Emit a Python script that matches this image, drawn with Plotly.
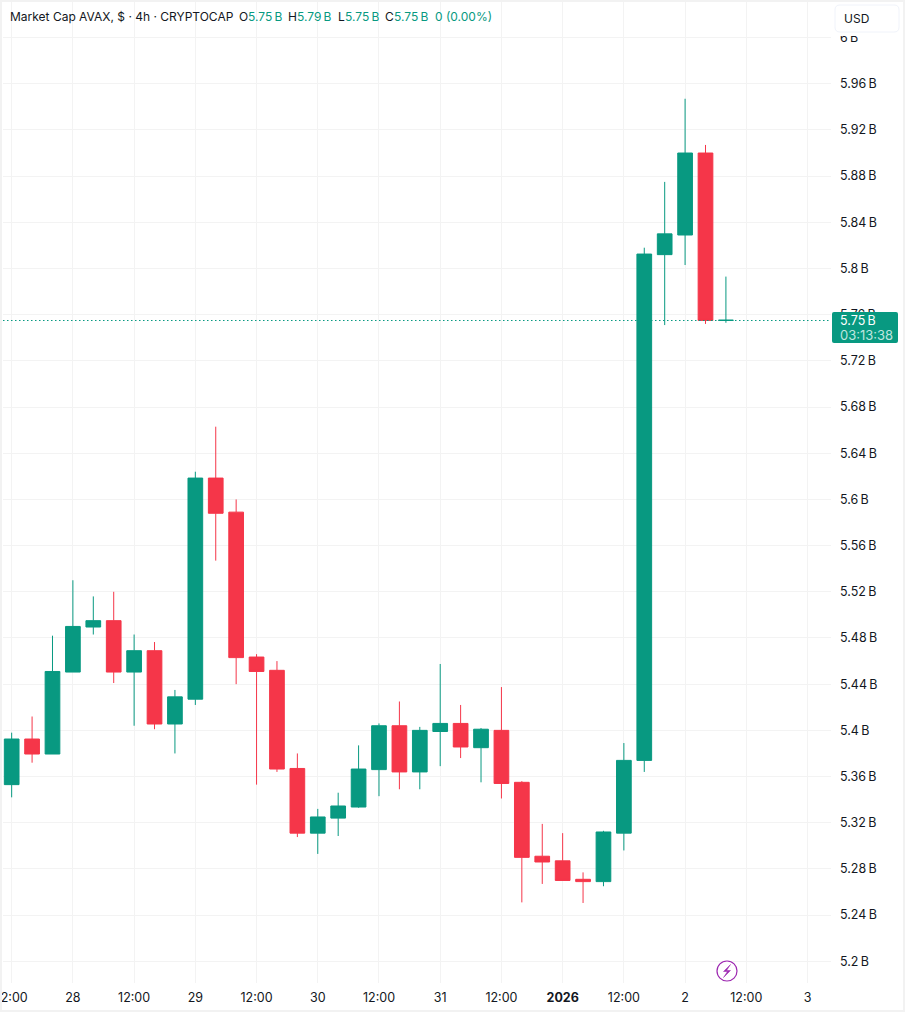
import pandas as pd
import plotly.graph_objects as go

opens = [5.353,5.3925,5.3795,5.4505,5.4895,5.495,5.4505,5.469,5.4055,5.427,5.6185,5.589,5.4635,5.452,5.367,5.311,5.324,5.3336,
         5.366,5.404,5.364,5.399,5.406,5.385,5.400,5.355,5.291,5.287,5.271,5.269,5.311,5.374,5.812,5.829,5.900,5.755]
highs = [5.398,5.412,5.482,5.530,5.516,5.520,5.483,5.4765,5.435,5.624,5.663,5.600,5.466,5.460,5.380,5.332,5.346,5.387,
         5.406,5.425,5.403,5.4575,5.422,5.402,5.4375,5.356,5.319,5.311,5.277,5.313,5.389,5.818,5.875,5.947,5.907,5.793]
lows = [5.342,5.372,5.3795,5.4505,5.483,5.441,5.404,5.401,5.380,5.422,5.547,5.440,5.353,5.364,5.3076,5.293,5.3085,5.333,
        5.343,5.349,5.349,5.369,5.376,5.355,5.341,5.251,5.267,5.270,5.2505,5.265,5.296,5.364,5.751,5.803,5.752,5.753]
closes = [5.3925,5.3795,5.451,5.490,5.495,5.4505,5.469,5.4055,5.429,5.6185,5.588,5.463,5.451,5.3665,5.311,5.325,5.3345,5.3665,
          5.404,5.364,5.400,5.406,5.3856,5.401,5.354,5.290,5.286,5.270,5.269,5.312,5.374,5.8125,5.830,5.900,5.755,5.7552]
times = pd.date_range("2025-12-27 12:00", periods=len(opens), freq="4h")

tick_dates = pd.date_range("2025-12-27 12:00", "2026-01-03 00:00", freq="12h")
tick_labels = ["12:00","28","12:00","29","12:00","30","12:00","31","12:00","<b>2026</b>","12:00","2","12:00","3"]
price_ticks = [5.2,5.24,5.28,5.32,5.36,5.4,5.44,5.48,5.52,5.56,5.6,5.64,5.68,5.72,5.76,5.8,5.84,5.88,5.92,5.96,6.0]
price_labels = ["5.2\u2009B","5.24\u2009B","5.28\u2009B","5.32\u2009B","5.36\u2009B","5.4\u2009B","5.44\u2009B","5.48\u2009B",
                "5.52\u2009B","5.56\u2009B","5.6\u2009B","5.64\u2009B","5.68\u2009B","5.72\u2009B","5.76\u2009B","5.8\u2009B",
                "5.84\u2009B","5.88\u2009B","5.92\u2009B","5.96\u2009B","6\u2009B"]
last_price = 5.755

GREEN, RED, INK, GRID, FONT = "#089981", "#F53649", "#131722", "#F3F3F3", "Inter"
W, H, L, R, T, B = 907, 1015, 3, 831, 2, 983

def px(x): return (x - L) / (R - L)
def py(y): return (B - y) / (B - T)

fig = go.Figure(go.Candlestick(
    x=times, open=opens, high=highs, low=lows, close=closes,
    increasing=dict(line=dict(color=GREEN, width=1), fillcolor=GREEN),
    decreasing=dict(line=dict(color=RED, width=1), fillcolor=RED),
    whiskerwidth=0, showlegend=False, hoverinfo="skip",
))

def rounded(x0, y0, x1, y1, r):
    a, b, c, d = px(x0), px(x1), py(y0), py(y1)
    rx, ry = r / (R - L), r / (B - T)
    return (f"M{a+rx},{c} L{b-rx},{c} Q{b},{c} {b},{c-ry} L{b},{d+ry} Q{b},{d} {b-rx},{d} "
            f"L{a+rx},{d} Q{a},{d} {a},{d+ry} L{a},{c-ry} Q{a},{c} {a+rx},{c} Z")

bolt = [(730.5,964.5),(723.5,971.5),(727.5,971.5),(723.5,977.5),(730.5,970.5),(726.5,970.5)]
bolt_path = "M" + " L".join(f"{px(a)},{py(b)}" for a, b in bolt) + " Z"

shapes = [
    dict(type="line", xref="paper", yref="paper", x0=0, x1=1, y0=py(320.5), y1=py(320.5),
         line=dict(color=GREEN, width=1.2, dash="1.5px,2.5px"), layer="above"),
    dict(type="path", xref="paper", yref="paper", path=rounded(832, 312, 898, 343, 2),
         fillcolor=GREEN, line=dict(width=0), layer="above"),
    dict(type="rect", xref="paper", yref="paper", x0=px(833), x1=px(901), y0=py(36), y1=py(28),
         fillcolor="white", line=dict(width=0), layer="above"),
    dict(type="path", xref="paper", yref="paper", path=rounded(835, 5, 899, 32, 5),
         fillcolor="white", line=dict(color="#F0F3FA", width=1), layer="above"),
    dict(type="circle", xref="paper", yref="paper", x0=px(717), x1=px(737), y0=py(981), y1=py(961),
         fillcolor="white", line=dict(color="#9C27B0", width=1.2), layer="above"),
    dict(type="path", xref="paper", yref="paper", path=bolt_path, fillcolor="#9C27B0",
         line=dict(color="#9C27B0", width=0.5), layer="above"),
    dict(type="rect", xref="paper", yref="paper", x0=px(1), x1=px(904), y0=py(1), y1=py(1011),
         line=dict(color="#F2F2F2", width=2), fillcolor="rgba(0,0,0,0)", layer="above"),
]

def note(x, y, text, color=INK, size=12):
    return dict(xref="paper", yref="paper", x=px(x), y=py(y), xanchor="left", yanchor="middle",
                text=text, showarrow=False, font=dict(family=FONT, size=size, color=color),
                borderpad=0, borderwidth=0)

annotations = [
    note(10, 17, "Market Cap AVAX, $ · 4h · CRYPTOCAP"),
    note(239, 17, "O"), note(248, 17, "5.75\u2009B", GREEN),
    note(288, 17, "H"), note(297, 17, "5.79\u2009B", GREEN),
    note(338, 17, "L"), note(345, 17, "5.75\u2009B", GREEN),
    note(385, 17, "C"), note(394, 17, "5.75\u2009B", GREEN),
    note(435, 17, "0 (0.00%)", GREEN),
    note(844, 18, "USD"),
    note(840, 320.5, "5.75\u2009B", "white", 12.5),
    note(840, 335, "03:13:38", "#BFE5DF", 13),
]

fig.update_layout(
    width=W, height=H, autosize=False,
    margin=dict(l=L, r=W - R, t=T, b=H - B, pad=0),
    paper_bgcolor="white", plot_bgcolor="white",
    boxgap=0.28, boxgroupgap=0, showlegend=False,
    font=dict(family=FONT, size=12, color=INK),
    shapes=shapes, annotations=annotations,
    hovermode=False,
    xaxis=dict(
        type="date", rangeslider=dict(visible=False), automargin=False,
        range=[pd.Timestamp("2025-12-27 10:18"), pd.Timestamp("2026-01-03 04:36")],
        tickmode="array", tickvals=list(tick_dates), ticktext=tick_labels,
        showgrid=True, gridcolor=GRID, gridwidth=1, zeroline=False, showline=False,
        ticks="", ticklabelstandoff=5, ticklabeloverflow="allow", tickangle=0,
        tickfont=dict(family=FONT, size=12.5, color=INK),
    ),
    yaxis=dict(
        side="right", range=[5.1812, 6.0308], automargin=False,
        tickmode="array", tickvals=price_ticks, ticktext=price_labels,
        showgrid=True, gridcolor=GRID, gridwidth=1, zeroline=False, showline=False,
        ticks="", ticklabelstandoff=8, ticklabeloverflow="allow",
        tickfont=dict(family=FONT, size=12.5, color=INK),
    ),
)

fig.write_html("out.html", config=dict(displayModeBar=False, responsive=False),
               post_script="document.body.style.margin='0';document.documentElement.style.overflow='hidden';")
